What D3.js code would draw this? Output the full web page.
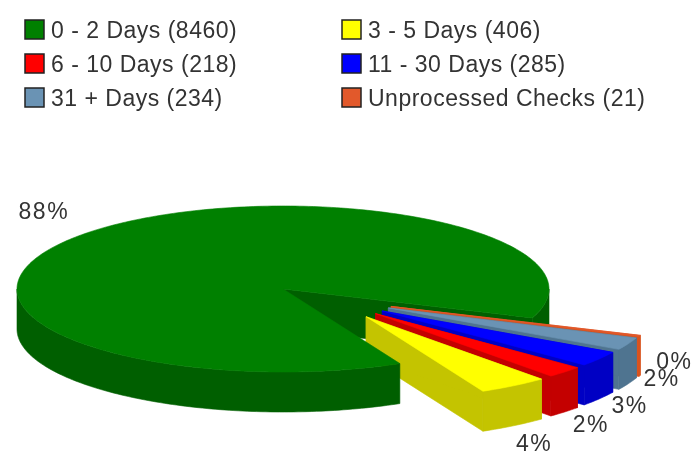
<!DOCTYPE html>
<html><head><meta charset="utf-8">
<script src="https://cdn.jsdelivr.net/npm/d3@7/dist/d3.min.js"></script>
<style>html,body{margin:0;padding:0;background:#fff}svg{display:block;filter:blur(.4px)}</style>
</head><body><svg width="697" height="461"></svg>
<script>
const categories = ["0 - 2 Days","3 - 5 Days","6 - 10 Days","11 - 30 Days","31 + Days","Unprocessed Checks"];
const counts = [8460,406,218,285,234,21];
const percentLabels = ["88%","4%","2%","3%","2%","0%"];
const topColors = ["#008000","#ffff00","#ff0000","#0000ff","#6a93b4","#e2592b"];
const wallColors = ["#005f00","#c4c400","#c40000","#0000c4","#4f7490","#d9531f"];

const svg = d3.select("svg");
const deg = Math.PI/180;
const font = "'Liberation Sans', Arial, sans-serif";
const rx = 266, ry = 83, depth = 40;
const x = d3.scaleLinear().domain([-1,1]).range([283-rx,283+rx]);
const y = d3.scaleLinear().domain([-1,1]).range([289-ry,289+ry]);

// Angles measured clockwise from east on screen; the pie runs counter-clockwise.
const start = 20.4*deg;
const arcs = d3.pie().sort(null).value(d=>d)
  .startAngle(-start).endAngle(-start+2*Math.PI)(counts)
  .map(a=>{
    const wrap = a.index===0 ? 0 : 2*Math.PI;
    return {index:a.index, a1:-a.startAngle+wrap, a0:-a.endAngle+wrap};
  });
const mid = a=>(a.a0+a.a1)/2;
const EXPLODE = .457, PIVOT = 35.3*deg, SQUEEZE = .55;
function offset(a){
  if(a.index===0) return [0,0];
  const t = PIVOT+(mid(a)-PIVOT)*SQUEEZE;
  return [EXPLODE*Math.cos(t), EXPLODE*Math.sin(t)];
}
function pt(o,t,r=1,dz=0){
  return [x(o[0]+r*Math.cos(t)), y(o[1]+r*Math.sin(t))+dz];
}
function arcPts(o,t0,t1,dz=0){
  const n = Math.max(2,Math.ceil(Math.abs(t1-t0)/(1*deg)));
  return d3.range(n+1).map(i=>pt(o,t0+(t1-t0)*i/n,1,dz));
}
const line = d3.line();
function poly(points,fill){
  svg.append("path").attr("d",line(points)+"Z").attr("fill",fill).attr("stroke",fill).attr("stroke-width",.6);
}
function wall(o,t0,t1,fill){
  poly(arcPts(o,t0,t1).concat(arcPts(o,t1,t0,depth)),fill);
}
function face(fill,o,t0,t1){
  poly([pt(o,0,0)].concat(arcPts(o,t0,t1)),fill);
}

const main = arcs[0];
const O0 = [0,0];
// main pie: back parts
wall(O0,0,start,wallColors[0]);
poly([pt(O0,0,0),pt(O0,start),pt(O0,start,1,depth),pt(O0,0,0,depth)],wallColors[0]);

// exploded slices, back to front
arcs.slice(1).reverse().forEach(a=>{
  const o = offset(a), i = a.index;
  poly([pt(o,0,0),pt(o,a.a1),pt(o,a.a1,1,depth),pt(o,0,0,depth)],wallColors[i]);
  poly([pt(o,0,0),pt(o,a.a0),pt(o,a.a0,1,depth),pt(o,0,0,depth)],wallColors[i]);
  wall(o,a.a0,a.a1,wallColors[i]);
  face(topColors[i],o,a.a0,a.a1);
});

// main pie: front wall and top face
const endA = arcs[1].a1;
wall(O0,endA,Math.PI,wallColors[0]);
face(topColors[0],O0,endA,2*Math.PI+start);

// percent labels
const labelNudge = [0,-1,1,3,1,-4];
arcs.forEach(a=>{
  const o = offset(a), t = mid(a), i = a.index;
  const p = pt(o,t);
  const lx = i===0 ? p[0]-42 : p[0]+37*Math.cos(t);
  const ly = (i===0 ? p[1]-22 : p[1]+depth+62*Math.sin(t)-33)+labelNudge[i];
  svg.append("text").attr("x",lx).attr("y",ly).attr("text-anchor","middle")
    .attr("dominant-baseline","central").attr("font-family",font).attr("font-size",23)
    .attr("letter-spacing",1.5).attr("fill","#333").text(percentLabels[i]);
});

// legend
const colX = d3.scalePoint().domain([0,1]).range([25,342]);
const rowY = d3.scalePoint().domain([0,1,2]).range([29,97]);
categories.forEach((c,i)=>{
  const cx = colX(i%2), cy = rowY(Math.floor(i/2));
  svg.append("rect").attr("x",cx).attr("y",cy-9).attr("width",19).attr("height",19)
    .attr("fill",topColors[i]).attr("stroke","#222").attr("stroke-width",1.5);
  svg.append("text").attr("x",cx+26).attr("y",cy+1).attr("dominant-baseline","central")
    .attr("font-family",font).attr("font-size",23).attr("letter-spacing",.5).attr("fill","#333")
    .text(`${c} (${counts[i]})`);
});
</script></body></html>
